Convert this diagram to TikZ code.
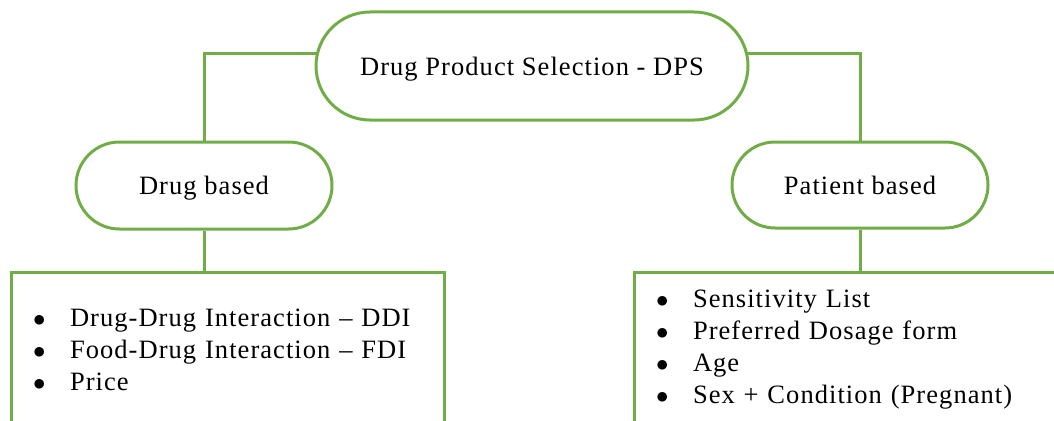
\documentclass[tikz,border=0pt]{standalone}
\usepackage{fontspec}
\setmainfont[LetterSpace=4]{Liberation Serif}
\definecolor{lgreen}{RGB}{112,173,71}
\begin{document}
\begin{tikzpicture}[x=1pt,y=1pt,
  pill/.style={draw=lgreen, line width=3pt, rounded corners=#1, fill=white,
    inner sep=0pt, text depth=0pt, font=\fontsize{26.5}{30}\selectfont},
  listbox/.style={draw=lgreen, line width=3pt, rectangle, fill=white,
    minimum width=433pt, minimum height=156pt, inner xsep=22pt, inner ysep=0pt,
    text width=389pt, align=left, font=\fontsize{26.5}{32}\selectfont},
  conn/.style={draw=lgreen, line width=3pt}]
\useasboundingbox (0,0) rectangle (1054,-420);
\clip (0,0) rectangle (1054,-420);
\newcommand{\bul}{\makebox[37pt][l]{$\bullet$}}
% connectors
\draw[conn] (317,-54) -| (204,-142);
\draw[conn] (747,-54) -| (860,-142);
% nodes
\node[pill=54pt, minimum width=432pt, minimum height=108pt] (dps) at (532,-66) {Drug Product Selection - DPS};
\node[pill=43.5pt, minimum width=256pt, minimum height=87pt] (drug) at (204,-185.5) {Drug based};
\node[pill=43pt, minimum width=256pt, minimum height=86pt] (patient) at (860,-185) {Patient based};
\node[listbox] (dbox) at (227.5,-350) {\bul Drug-Drug Interaction – DDI\\ \bul Food-Drug Interaction – FDI\\ \bul Price};
\node[listbox] (pbox) at (850.5,-350) {\bul Sensitivity List\\ \bul Preferred Dosage form\\ \bul Age\\ \bul Sex + Condition (Pregnant)};
\draw[conn] (drug.south) -- (drug.south |- dbox.north);
\draw[conn] (patient.south) -- (patient.south |- pbox.north);
\end{tikzpicture}
\end{document}
